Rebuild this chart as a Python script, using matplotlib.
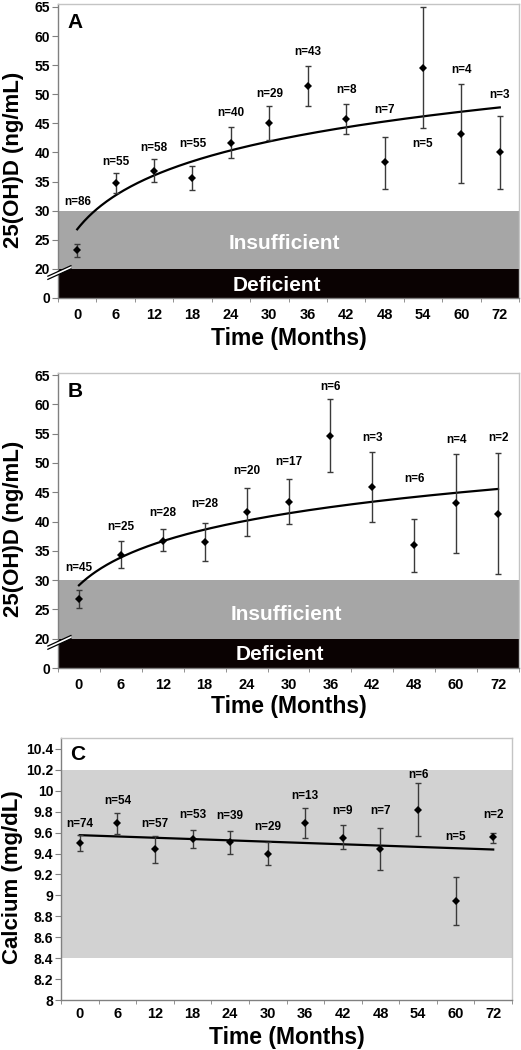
import numpy as np
import matplotlib
matplotlib.use("Agg")
import matplotlib.pyplot as plt
from matplotlib.transforms import blended_transform_factory
from matplotlib.patches import Polygon

plt.rcParams['font.family'] = ['Liberation Sans', 'DejaVu Sans']
plt.rcParams['font.weight'] = 'bold'

# ---------------- data ----------------
a_months = ['0', '6', '12', '18', '24', '30', '36', '42', '48', '54', '60', '72']
a_mean = [23.2, 34.7, 36.8, 35.6, 41.6, 45.0, 51.4, 45.7, 38.3, 54.5, 43.2, 40.0]
a_upper = [24.3, 36.4, 38.8, 37.7, 44.3, 48.0, 54.9, 48.3, 42.7, 65.0, 51.7, 46.3]
a_lower = [22.1, 33.1, 35.0, 33.6, 39.1, 42.1, 47.9, 43.1, 33.8, 44.2, 34.8, 33.8]
a_n = [86, 55, 58, 55, 40, 29, 43, 8, 7, 5, 4, 3]
a_label_y = [31.5, 38.3, 40.7, 41.4, 46.7, 50.0, 57.3, 50.7, 47.3, 41.4, 54.2, 49.9]

b_months = ['0', '6', '12', '18', '24', '30', '36', '42', '48', '60', '72']
b_mean = [26.8, 34.3, 36.7, 36.5, 41.7, 43.4, 54.6, 45.9, 36.0, 43.1, 41.3]
b_upper = [28.3, 36.7, 38.7, 39.8, 45.8, 47.3, 60.9, 51.9, 40.5, 51.5, 51.7]
b_lower = [25.2, 32.1, 34.9, 33.2, 37.6, 39.6, 48.4, 40.0, 31.4, 34.7, 31.0]
b_n = [45, 25, 28, 28, 20, 17, 6, 3, 6, 4, 2]
b_label_y = [32.1, 39.1, 41.5, 43.0, 48.7, 50.2, 63.0, 54.3, 47.3, 53.9, 54.3]

c_months = ['0', '6', '12', '18', '24', '30', '36', '42', '48', '54', '60', '72']
c_mean = [9.50, 9.695, 9.44, 9.54, 9.51, 9.40, 9.695, 9.55, 9.44, 9.82, 8.945, 9.555]
c_upper = [9.58, 9.79, 9.57, 9.63, 9.62, 9.51, 9.84, 9.67, 9.64, 10.07, 9.18, 9.60]
c_lower = [9.42, 9.59, 9.31, 9.45, 9.40, 9.29, 9.55, 9.44, 9.24, 9.57, 8.72, 9.50]
c_n = [74, 54, 57, 53, 39, 29, 13, 9, 7, 6, 5, 2]
c_label_y = [9.685, 9.905, 9.685, 9.77, 9.76, 9.65, 9.95, 9.81, 9.81, 10.15, 9.56, 9.77]

vitd_ticks = [15, 20, 25, 30, 35, 40, 45, 50, 55, 60, 65]
vitd_ticklabels = ['0', '20', '25', '30', '35', '40', '45', '50', '55', '60', '65']
ca_ticks = [8.0, 8.2, 8.4, 8.6, 8.8, 9.0, 9.2, 9.4, 9.6, 9.8, 10.0, 10.2, 10.4]
ca_ticklabels = ['8', '8.2', '8.4', '8.6', '8.8', '9', '9.2', '9.4', '9.6', '9.8', '10', '10.2', '10.4']

# ---------------- style ----------------
W, H = 521, 1050
fig = plt.figure(figsize=(W / 100, H / 100), dpi=100)

SPINE_DARK = '#808080'
SPINE_LIGHT = '#c4c4c4'
ERR_COLOR = '#3a3a3a'
INSUFF = '#a6a6a6'
DEFIC = '#0a0202'
CA_BAND = '#d2d2d2'


def ax_rect(left, right, top, bottom):
    return [left / W, 1 - bottom / H, (right - left) / W, (bottom - top) / H]


def style_axes(ax, months, xpad=7):
    n = len(months)
    ax.set_xlim(-0.5, n - 0.5)
    ax.set_xticks(range(n))
    ax.set_xticklabels(months)
    ax.set_xticks(np.arange(-0.5, n, 1.0), minor=True)
    ax.tick_params(axis='x', which='major', length=0, pad=xpad, labelsize=10.5)
    ax.tick_params(axis='x', which='minor', length=3, color=SPINE_DARK, direction='out')
    ax.tick_params(axis='y', which='major', length=4, color=SPINE_DARK, direction='out',
                   labelsize=10, pad=1.5)
    for lab in ax.get_xticklabels() + ax.get_yticklabels():
        lab.set_fontweight('bold')
    ax.spines['left'].set_color(SPINE_DARK)
    ax.spines['bottom'].set_color(SPINE_DARK)
    ax.spines['top'].set_color(SPINE_LIGHT)
    ax.spines['right'].set_color(SPINE_LIGHT)
    for s in ax.spines.values():
        s.set_linewidth(1.0)


def set_xlabel(ax, y_frac):
    ax.set_xlabel('Time (Months)', fontsize=16.5, fontweight='bold')
    ax.xaxis.set_label_coords(0.5, y_frac)
    ax.xaxis.label.set_va('center')


def draw_points(ax, mean, lower, upper, nvals, label_y):
    x = np.arange(len(mean))
    mean = np.asarray(mean)
    yerr = [mean - np.asarray(lower), np.asarray(upper) - mean]
    ax.errorbar(x, mean, yerr=yerr, fmt='none', ecolor=ERR_COLOR, elinewidth=1.0,
                capsize=2.3, capthick=1.0, zorder=4)
    ax.plot(x, mean, linestyle='none', marker='D', markersize=4.2, markeredgewidth=0,
            color='black', zorder=5)
    for xi, nv, ly in zip(x, nvals, label_y):
        ax.text(xi, ly, f'n={nv}', ha='center', va='center', fontsize=8.5,
                fontweight='bold', zorder=6)


def vitd_panel(rect, letter, months, mean, lower, upper, nvals, label_y, ytop,
               ins_xy, def_xy, xlab_y):
    ax = fig.add_axes(rect)
    style_axes(ax, months)
    ax.set_ylim(15, ytop)
    ax.set_yticks(vitd_ticks)
    ax.set_yticklabels(vitd_ticklabels, fontweight='bold')
    ax.axhspan(20, 30, color=INSUFF, lw=0, zorder=1)
    ax.axhspan(15, 20, color=DEFIC, lw=0, zorder=1)
    ax.text(ins_xy[0], ins_xy[1], 'Insufficient', color='white', fontsize=15,
            fontweight='bold', ha='center', va='center', zorder=3)
    ax.text(def_xy[0], def_xy[1], 'Deficient', color='white', fontsize=15,
            fontweight='bold', ha='center', va='center', zorder=3)
    # logarithmic trend line (fit on category index 1..n)
    idx = np.arange(1, len(mean) + 1)
    b, a = np.polyfit(np.log(idx), mean, 1)
    xs = np.linspace(1, len(mean), 300)
    ax.plot(xs - 1, a + b * np.log(xs), color='black', lw=1.6, zorder=3)
    draw_points(ax, mean, lower, upper, nvals, label_y)
    ax.text(0.037, 0.936, letter, transform=ax.transAxes, fontsize=15,
            fontweight='bold', ha='center', va='center')
    ax.set_ylabel('25(OH)D (ng/mL)', fontsize=16, fontweight='bold')
    ax.yaxis.set_label_coords(-0.073, 0.47)
    set_xlabel(ax, xlab_y)
    # axis break marks at 20
    tr = blended_transform_factory(ax.transAxes, ax.transData)
    dx0, dx1 = -0.022, 0.028
    y0, y1 = 18.75, 20.55
    g = 0.55
    poly = Polygon([[dx0, y0], [dx1, y1], [dx1, y1 - g], [dx0, y0 - g]], closed=True,
                   transform=tr, facecolor='white', edgecolor='none', clip_on=False, zorder=7)
    ax.add_patch(poly)
    ax.plot([dx0, dx1], [y0, y1], transform=tr, color='black', lw=0.9, clip_on=False, zorder=8)
    ax.plot([dx0, dx1], [y0 - g, y1 - g], transform=tr, color='black', lw=0.9, clip_on=False, zorder=8)
    return ax


axA = vitd_panel(ax_rect(58, 519, 4, 298), 'A', a_months, a_mean, a_lower, a_upper,
                 a_n, a_label_y, 65.5, (5.4, 24.4), (5.2, 17.2), -0.139)
axB = vitd_panel(ax_rect(58, 519, 373, 668), 'B', b_months, b_mean, b_lower, b_upper,
                 b_n, b_label_y, 65.35, (4.95, 24.2), (4.8, 17.3), -0.132)

# ---------------- panel C ----------------
axC = fig.add_axes(ax_rect(61, 512, 738, 1000))
style_axes(axC, c_months, xpad=5)
axC.set_ylim(8.0, 10.505)
axC.set_yticks(ca_ticks)
axC.set_yticklabels(ca_ticklabels, fontweight='bold')
axC.axhspan(8.4, 10.2, color=CA_BAND, lw=0, zorder=1)
xi = np.arange(len(c_mean))
m, c0 = np.polyfit(xi, c_mean, 1)
axC.plot([xi[0], xi[-1]], [c0 + m * xi[0], c0 + m * xi[-1]], color='black', lw=1.6, zorder=3)
draw_points(axC, c_mean, c_lower, c_upper, c_n, c_label_y)
axC.text(0.038, 0.936, 'C', transform=axC.transAxes, fontsize=15,
         fontweight='bold', ha='center', va='center')
axC.set_ylabel('Calcium (mg/dL)', fontsize=16, fontweight='bold')
axC.yaxis.set_label_coords(-0.085, 0.47)
set_xlabel(axC, -0.142)

fig.savefig('out.png', dpi=100)
